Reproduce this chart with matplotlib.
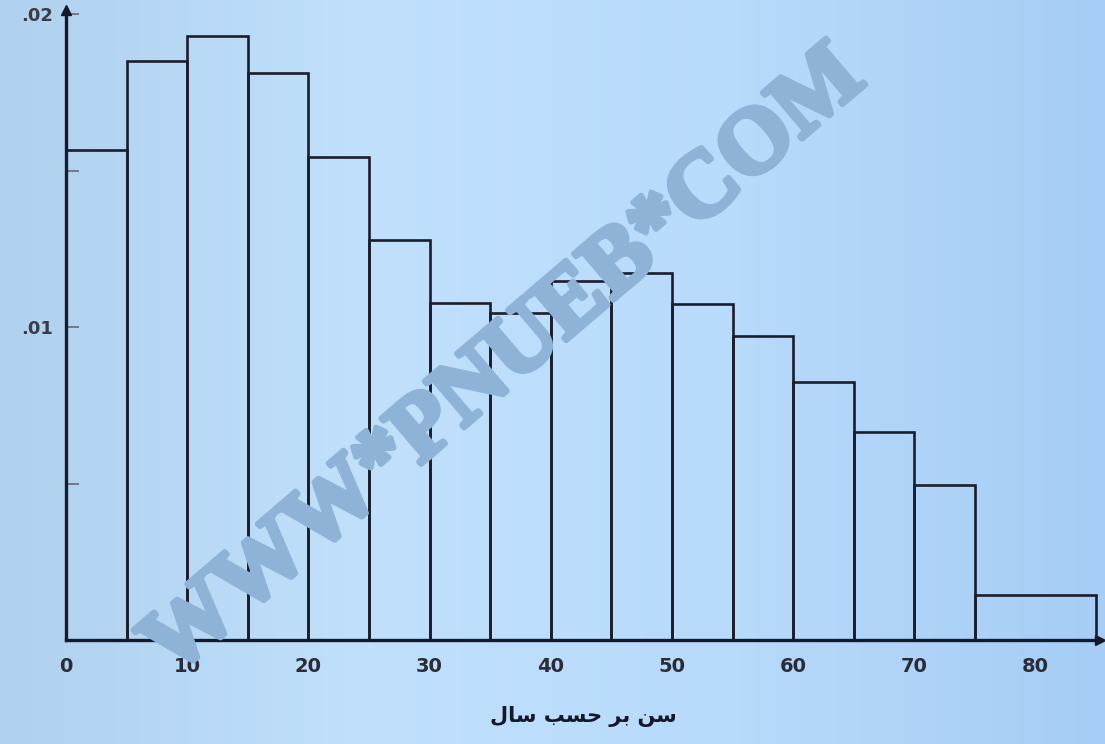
import matplotlib
matplotlib.use("Agg")
import matplotlib.pyplot as plt
import matplotlib.patheffects as pe
import numpy as np
from matplotlib.colors import LinearSegmentedColormap

# age bins (years) and relative frequency per year
bin_edges = [0, 5, 10, 15, 20, 25, 30, 35, 40, 45, 50, 55, 60, 65, 70, 75, 85]
density = [0.01565, 0.0185, 0.0193, 0.01811, 0.01543, 0.01278, 0.01077, 0.01045,
           0.01147, 0.01173, 0.01073, 0.00971, 0.00824, 0.00665, 0.00495, 0.00144]
x_ticks = [0, 10, 20, 30, 40, 50, 60, 70, 80]
y_ticks = [0.01, 0.02]
y_tick_labels = [".01", ".02"]
y_minor = [0.005, 0.015]
x_label = "سن بر حسب سال"
watermark = "WWW*PNUEB*COM"

# matplotlib has no arabic shaping, so pick presentation forms by hand
FORMS = {
    "س": ("\uFEB1", "\uFEB2", "\uFEB3", "\uFEB4"),
    "ن": ("\uFEE5", "\uFEE6", "\uFEE7", "\uFEE8"),
    "ب": ("\uFE8F", "\uFE90", "\uFE91", "\uFE92"),
    "ح": ("\uFEA1", "\uFEA2", "\uFEA3", "\uFEA4"),
    "ل": ("\uFEDD", "\uFEDE", "\uFEDF", "\uFEE0"),
    "ر": ("\uFEAD", "\uFEAE", None, None),
    "ا": ("\uFE8D", "\uFE8E", None, None),
}


def shape_arabic(text):
    out = []
    for word in text.split(" "):
        chars = []
        for i, ch in enumerate(word):
            f = FORMS[ch]
            joins_prev = i > 0 and FORMS[word[i - 1]][2] is not None
            joins_next = i < len(word) - 1 and f[2] is not None
            if joins_prev and joins_next:
                chars.append(f[3])
            elif joins_prev:
                chars.append(f[1])
            elif joins_next:
                chars.append(f[2])
            else:
                chars.append(f[0])
        out.append("".join(chars))
    return " ".join(out)[::-1]


fig = plt.figure(figsize=(11.05, 7.44), dpi=100)

bg = fig.add_axes([0, 0, 1, 1], zorder=-10)
grad_cmap = LinearSegmentedColormap.from_list("bg", ["#b0d1ef", "#c0e0fb", "#b8dafb", "#a6cdf5"])
bg.imshow(np.linspace(0, 1, 256)[None, :], aspect="auto", cmap=grad_cmap, extent=[0, 1, 0, 1])
bg.set_axis_off()

ax = fig.add_axes([0.0597, 0.1398, 0.9357, 0.8468])
ax.patch.set_alpha(0)
edges = np.array(bin_edges, dtype=float)
ax.bar(edges[:-1], density, width=np.diff(edges), align="edge", fill=False,
       edgecolor="#1b1d2b", linewidth=1.9, zorder=3)

ax.set_xlim(0, 85.3)
ax.set_ylim(0, 0.02013)
for side in ("top", "right"):
    ax.spines[side].set_visible(False)
for side in ("left", "bottom"):
    ax.spines[side].set_linewidth(2.4)
    ax.spines[side].set_color("#15172a")
ax.plot(1, 0, ">", color="#15172a", ms=7, transform=ax.get_yaxis_transform(), clip_on=False)
ax.plot(0, 1, "^", color="#15172a", ms=7, transform=ax.get_xaxis_transform(), clip_on=False)

ax.set_xticks(x_ticks)
ax.set_xticklabels([str(v) for v in x_ticks], fontsize=14, fontweight="bold", color="#2a2c38")
ax.tick_params(axis="x", length=0, pad=12)

ax.set_yticks(y_ticks)
ax.set_yticklabels(y_tick_labels, fontsize=13, fontweight="bold", color="#3a3c46")
ax.set_yticks(y_minor, minor=True)
ax.tick_params(axis="y", which="both", direction="in", length=9, width=1.3, color="#6a7384", pad=9)

ax.set_xlabel(shape_arabic(x_label), fontsize=15, fontweight="bold", color="#15172a",
              family=["DejaVu Sans"], labelpad=22)

fig.text(0.457, 0.512, watermark, rotation=40.5, rotation_mode="anchor", ha="center", va="center",
         fontsize=67, fontweight="bold", family=["Liberation Serif", "DejaVu Serif"],
         color="#8eb3d6", zorder=20,
         path_effects=[pe.withStroke(linewidth=4, foreground="#8eb3d6")])

fig.savefig("out.png", dpi=100)
